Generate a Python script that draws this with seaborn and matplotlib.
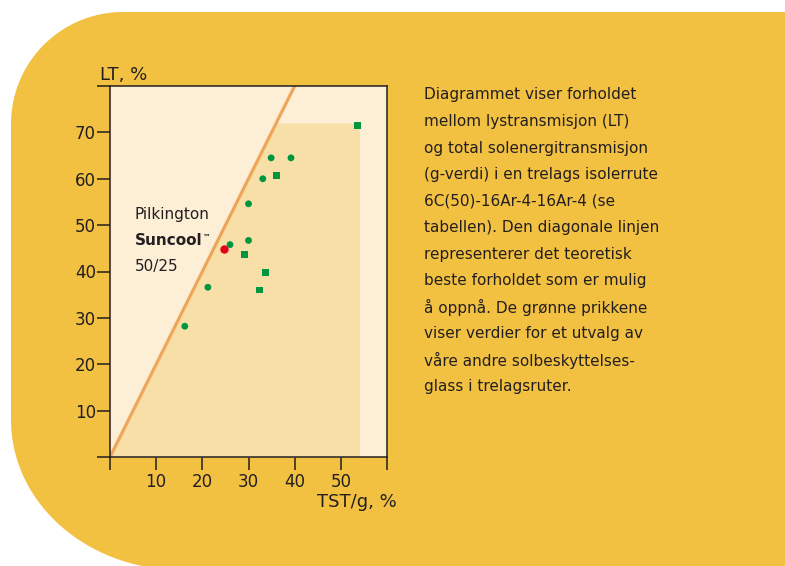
import numpy as np
import pandas as pd
import seaborn as sns
from matplotlib import pyplot as plt
from matplotlib.patches import Polygon

# measured glass types (TST/g %, LT %)
circle_tst = [34.9, 39.2, 33.1, 30.0, 26.0, 30.0, 21.2, 16.2]
circle_lt = [64.5, 64.5, 60.0, 54.6, 45.8, 46.7, 36.6, 28.2]
square_tst = [53.6, 36.0, 29.2, 33.6, 32.3]
square_lt = [71.5, 60.7, 43.7, 39.8, 36.0]
suncool_tst = [24.8]
suncool_lt = [44.9]

# theoretical best ratio line and the shaded region
diag_tst = [0, 40]
diag_lt = [0, 80]
shade_tst = [0, 36, 54]
shade_lt = [0, 72, 72]

x_ticks = [0, 10, 20, 30, 40, 50, 60]
x_labels = ["", "10", "20", "30", "40", "50", ""]
y_ticks = [0, 10, 20, 30, 40, 50, 60, 70, 80]
y_labels = ["", "10", "20", "30", "40", "50", "60", "70", ""]

paragraph = [
    "Diagrammet viser forholdet",
    "mellom lystransmisjon (LT)",
    "og total solenergitransmisjon",
    "(g-verdi) i en trelags isolerrute",
    "6C(50)-16Ar-4-16Ar-4 (se",
    "tabellen). Den diagonale linjen",
    "representerer det teoretisk",
    "beste forholdet som er mulig",
    "å oppnå. De grønne prikkene",
    "viser verdier for et utvalg av",
    "våre andre solbeskyttelses-",
    "glass i trelagsruter.",
]

YELLOW = "#F3C142"
CREAM = "#FDEED6"
SHADE = "#F8DFA8"
ORANGE = "#EEA65A"
GREEN = "#00963F"
RED = "#E2001A"
INK = "#231F20"
FS = 11

sns.set_style("ticks")
plt.rcParams["font.family"] = ["DejaVu Sans"]

W, H = 785, 566


def px(x, y):
    return x / W, 1 - y / H


fig = plt.figure(figsize=(W / 100, H / 100), dpi=100)
fig.patch.set_facecolor("white")

# yellow rounded background panel
t1 = np.linspace(np.pi, 1.5 * np.pi, 40)
top_arc = [(123 + 112 * np.cos(t), 124 + 112 * np.sin(t)) for t in t1]
t2 = np.linspace(0, np.pi / 2, 40)
bot_arc = [(11 + 170 * (1 - np.cos(t)), 420 + 150 * np.sin(t)) for t in t2]
outline = [(11, 420)] + top_arc + [(800, 12), (800, 580)] + bot_arc[::-1]
panel = Polygon([px(x, y) for x, y in outline], closed=True,
                transform=fig.transFigure, facecolor=YELLOW,
                edgecolor="none", zorder=-5)
fig.patches.append(panel)

ax = fig.add_axes([110 / W, 1 - 457 / H, 277 / W, 371 / H])
ax.set_zorder(2)
ax.set_facecolor(CREAM)

ax.fill_between(shade_tst, 0, shade_lt, color=SHADE, linewidth=0, zorder=1)
sns.lineplot(x=diag_tst, y=diag_lt, ax=ax, color=ORANGE, linewidth=2.3, zorder=2)

pts = pd.DataFrame({
    "tst": circle_tst + square_tst,
    "lt": circle_lt + square_lt,
    "shape": ["circle"] * len(circle_tst) + ["square"] * len(square_tst),
})
sns.scatterplot(data=pts, x="tst", y="lt", style="shape",
                markers={"circle": "o", "square": "s"}, color=GREEN,
                s=24, linewidth=0, legend=False, ax=ax, zorder=3)
sns.scatterplot(x=suncool_tst, y=suncool_lt, color=RED, s=36,
                linewidth=0, ax=ax, zorder=4)

ax.set_xlim(0, 60)
ax.set_ylim(0, 80)
ax.set_xticks(x_ticks)
ax.set_xticklabels(x_labels)
ax.set_yticks(y_ticks)
ax.set_yticklabels(y_labels)
ax.set_xlabel("")
ax.set_ylabel("")
ax.tick_params(axis="both", length=9.2, width=1.1, color=INK,
               labelcolor=INK, labelsize=12)
ax.tick_params(axis="x", pad=2.5)
ax.tick_params(axis="y", pad=1)
for sp in ax.spines.values():
    sp.set_visible(True)
    sp.set_color(INK)
    sp.set_linewidth(1.1)

fig.text(*px(100, 75), "LT, %", fontsize=13, color=INK, va="center", ha="left")
fig.text(*px(397, 502), "TST/g, %", fontsize=13, color=INK, va="center", ha="right")

ax.text(5.4, 52.3, "Pilkington", fontsize=FS, color=INK, va="center")
sc = ax.text(5.4, 46.7, "Suncool", fontsize=FS, color=INK, va="center",
             fontweight="bold")
ax.annotate("™", xy=(1, 1), xycoords=sc, xytext=(0.5, 0),
            textcoords="offset points", fontsize=5.5, color=INK,
            va="top", ha="left", fontweight="bold")
ax.text(5.4, 41.1, "50/25", fontsize=FS, color=INK, va="center")

for i, line in enumerate(paragraph):
    fig.text(*px(424, 95 + i * 26.5), line, fontsize=FS, color=INK,
             va="center", ha="left")

fig.savefig("out.png", dpi=100)
